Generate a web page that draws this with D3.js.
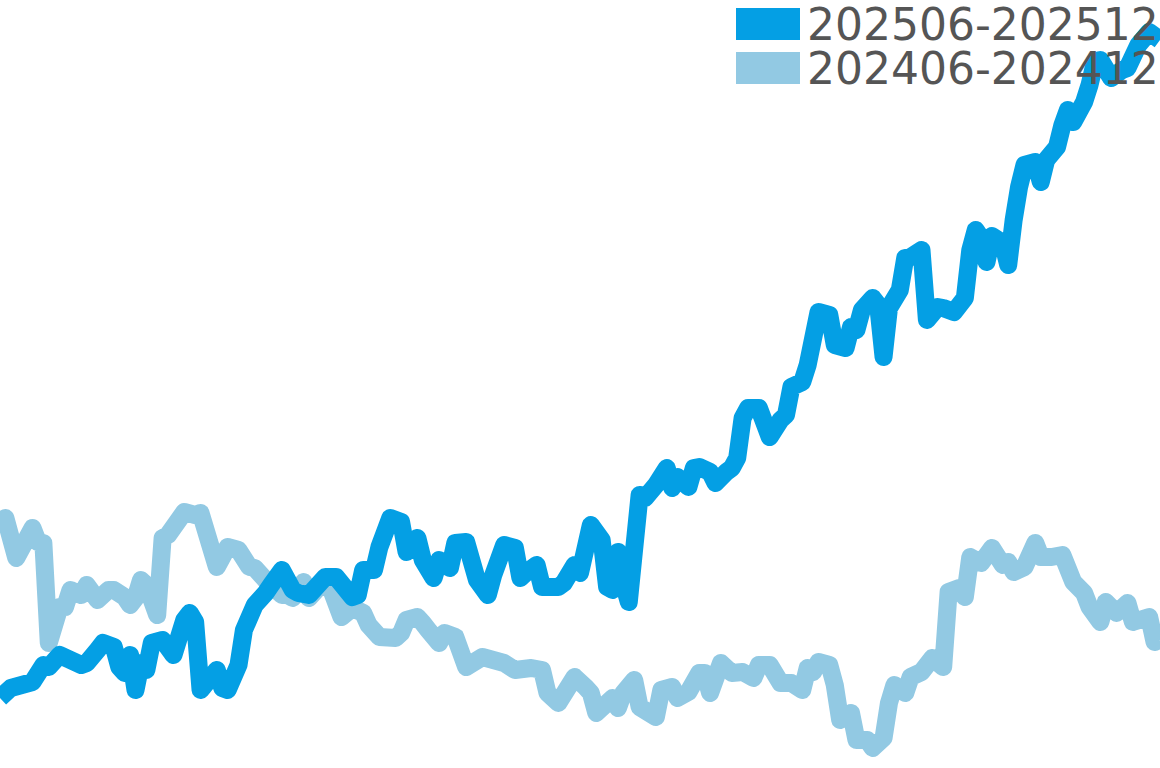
<!DOCTYPE html>
<html>
<head>
<meta charset="utf-8">
<script src="https://cdn.jsdelivr.net/npm/d3@7"></script>
<style>
  html, body { margin: 0; padding: 0; background: #fff; }
  svg { display: block; }
</style>
</head>
<body>
<div id="chart"></div>
<script>
// series names (legend order)
const seriesNames = ['202506-202512', '202406-202412'];
const seriesColors = ['#049fe4', '#92c9e3'];

// day offset from series start, and value (no axis shown)
const days2025 = [0,2,6,8,9,11,15,16,18,19,21,22,23,24,25,26,27,28,30,32,34,35,36,37,40,41,42,44,45,47,49,50,52,54,55,57,60,62,65,66,67,69,70,72,74,75,77,78,80,81,83,84,86,88,90,91,93,95,96,97,99,100,103,104,106,107,109,111,112,113,114,115,116,118,119,121,123,124,125,127,128,129,131,132,134,135,136,137,138,140,142,144,145,146,148,149,151,153,154,156,157,158,159,161,162,163,164,166,167,168,170,171,173,174,176,178,179,180,181,182,183,185,186,187,188,189,191,192,193,195,196,197,198,200,201,202,203,205,207,208,210,212,214];
const vals2025 = [7.0,8.0,8.6,10.3,10.1,11.3,10.3,10.5,11.8,12.5,12.1,10.1,9.5,11.3,7.8,10.5,9.8,12.5,12.8,11.3,14.8,15.5,14.6,7.8,9.8,8.0,7.8,10.3,13.8,16.3,17.5,18.3,19.8,17.8,17.5,17.3,19.1,19.1,17.1,17.3,19.8,19.8,22.1,25.0,24.6,21.6,23.0,20.8,19.0,20.8,20.0,22.5,22.6,18.8,17.3,19.3,22.3,22.0,19.0,19.5,20.3,18.1,18.1,18.5,20.3,19.5,24.3,22.8,18.1,17.8,21.6,18.5,16.6,27.3,27.0,28.3,30.0,28.0,29.1,28.1,30.0,30.1,29.6,28.5,29.6,30.0,31.0,35.0,36.0,36.0,33.1,34.8,35.3,38.1,38.6,40.3,45.6,45.3,42.3,42.0,44.1,43.8,45.8,47.0,46.3,41.1,46.0,47.8,51.0,51.1,51.8,44.8,46.1,46.0,45.6,47.0,51.8,53.8,53.0,50.6,53.2,52.5,50.3,54.8,58.1,60.3,60.6,58.6,60.8,62.1,64.3,65.8,64.6,66.6,68.3,70.6,70.8,69.0,69.8,70.0,72.3,73.6,72.8];

const days2024 = [0,1,3,6,7,8,9,11,12,13,15,16,18,20,21,23,24,25,26,27,29,30,31,34,36,37,40,42,44,46,47,49,52,53,54,56,57,60,61,63,65,67,68,70,73,74,75,77,78,79,81,82,84,85,86,89,91,93,95,98,100,101,103,106,108,109,110,113,114,115,117,118,121,122,124,125,127,129,130,131,133,135,137,139,140,142,144,146,148,149,150,151,153,154,155,157,158,160,161,163,164,165,167,168,170,172,174,175,177,178,179,181,183,185,186,187,189,191,192,194,196,198,200,201,203,204,206,208,209,212,213,214];
const vals2024 = [24.5,25.0,21.0,24.0,22.6,22.5,12.5,16.1,16.1,17.8,17.3,18.3,16.8,17.8,17.8,17.1,16.3,17.0,18.8,18.3,15.3,23.0,23.3,25.6,25.3,25.5,20.1,22.1,21.8,20.1,20.0,18.8,17.3,17.3,17.0,18.6,17.0,18.8,18.0,15.1,16.0,15.5,14.3,13.1,13.0,13.5,14.8,15.1,14.5,13.8,12.5,13.5,13.1,11.6,10.1,11.1,10.8,10.5,9.8,10.0,9.8,7.5,6.5,9.1,8.1,7.5,5.5,7.0,6.0,7.5,8.8,6.1,5.1,7.8,8.1,7.0,7.6,9.5,9.5,7.5,10.5,9.5,9.6,9.0,10.3,10.3,8.5,8.5,7.8,10.0,9.6,10.6,10.3,8.3,4.8,5.5,2.8,2.8,2.0,3.0,6.5,8.3,7.5,9.1,9.6,11.0,10.1,17.6,18.0,17.1,21.1,20.5,22.0,20.3,20.6,19.6,20.1,22.5,21.1,21.1,21.3,18.6,17.5,16.1,14.6,16.6,15.5,16.5,14.6,15.1,12.6,12.8];

const width = 1160, height = 768;

const svg = d3.select('#chart')
              .append('svg')
              .attr('width', width)
              .attr('height', height);

let scaleX = d3.scaleLinear().domain([0, 214]).range([0, width]);
let scaleY = d3.scaleLinear().domain([0, 76.8]).range([height, 0]);

let line = d3.line()
             .x(d => scaleX(d.day))
             .y(d => scaleY(d.val));

let series = [
  days2025.map((d, i) => ({day: d, val: vals2025[i]})),
  days2024.map((d, i) => ({day: d, val: vals2024[i]}))
];

// older period underneath, current period on top
[1, 0].forEach(k => {
  svg.append('path')
     .datum(series[k])
     .attr('d', line)
     .attr('fill', 'none')
     .attr('stroke', seriesColors[k])
     .attr('stroke-width', 18)
     .attr('stroke-linejoin', 'round')
     .attr('stroke-linecap', 'butt');
});

// legend drawn last, sits above the lines
let legend = svg.selectAll('.legend')
                .data(seriesNames)
                .enter()
                .append('g')
                .attr('class', 'legend')
                .attr('transform', (d, i) => 'translate(736,' + (8 + i * 44) + ')');

legend.append('rect')
      .attr('width', 64)
      .attr('height', 32)
      .attr('fill', (d, i) => seriesColors[i]);

legend.append('text')
      .attr('x', 71)
      .attr('y', 31.5)
      .style('font-family', 'DejaVu Sans')
      .style('font-size', '44px')
      .style('fill', '#555')
      .text(d => d);
</script>
</body>
</html>
